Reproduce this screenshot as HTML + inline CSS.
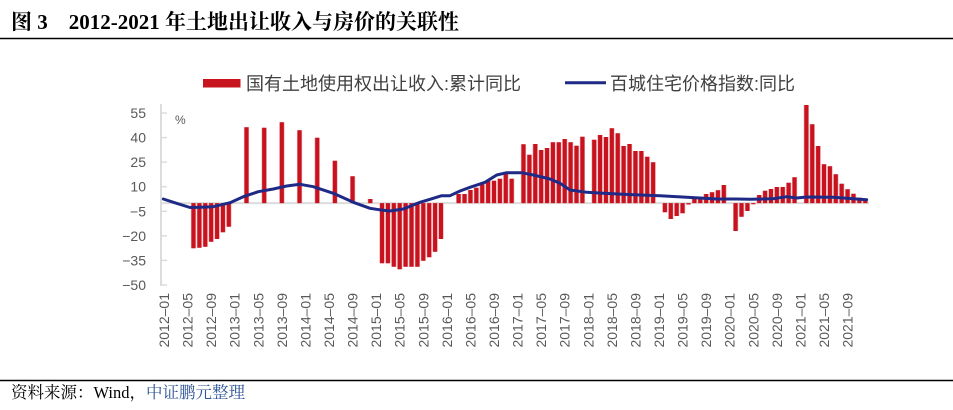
<!DOCTYPE html>
<html><head><meta charset="utf-8"><style>
html,body{margin:0;padding:0;background:#fff;}
svg{display:block;}
</style></head><body>
<svg width="953" height="410" viewBox="0 0 953 410" xmlns="http://www.w3.org/2000/svg">
<defs>
<path id="bars" d="M193.47 203.1V248.3M199.36 203.1V247.7M205.25 203.1V246.7M211.14 203.1V241.7M217.04 203.1V239M222.93 203.1V232.3M228.82 203.1V226.7
M246.5 203.1V127.3M264.18 203.1V127.7M281.86 203.1V122.3M299.54 203.1V130.3M317.22 203.1V137.7M334.9 203.1V160.7M352.58 203.1V176.3M370.26 203.1V199
M382.04 203.1V263.3M387.93 203.1V263.3M393.83 203.1V266.7M399.72 203.1V269.3M405.61 203.1V266.7M411.51 203.1V266.7M417.4 203.1V266.7M423.29 203.1V260.7M429.19 203.1V257.3M435.08 203.1V251.7M440.97 203.1V239
M458.65 203.1V194M464.54 203.1V194M470.44 203.1V190M476.33 203.1V187.7M482.22 203.1V184.3M488.12 203.1V181M494.01 203.1V180.7M499.9 203.1V178.7M505.79 203.1V174M511.69 203.1V178.7
M523.47 203.1V144.3M529.37 203.1V154.7M535.26 203.1V144M541.15 203.1V150M547.05 203.1V148M552.94 203.1V142.3M558.83 203.1V142.3M564.72 203.1V139M570.62 203.1V142.3M576.51 203.1V145.7M582.4 203.1V136.7
M594.19 203.1V139.7M600.08 203.1V135M605.98 203.1V137M611.87 203.1V128.3M617.76 203.1V133.3M623.65 203.1V146M629.55 203.1V144M635.44 203.1V151M641.33 203.1V151M647.23 203.1V156.7M653.12 203.1V162.3
M664.91 203.1V212.3M670.8 203.1V219M676.69 203.1V216M682.58 203.1V213.3M688.48 203.1V204.5M694.37 203.1V196.7M700.26 203.1V196.7M706.16 203.1V194M712.05 203.1V192.3M717.94 203.1V190.3M723.84 203.1V185
M735.62 203.1V231M741.51 203.1V216.7M747.41 203.1V211M753.3 203.1V204.2M759.19 203.1V195M765.09 203.1V190.7M770.98 203.1V189M776.87 203.1V187M782.77 203.1V187M788.66 203.1V182.7M794.55 203.1V177.3
M806.34 203.1V105M812.23 203.1V124.3M818.12 203.1V146M824.02 203.1V164.3M829.91 203.1V166.3M835.8 203.1V174.3M841.7 203.1V183.7M847.59 203.1V189.3M853.48 203.1V193.7M859.37 203.1V197.7M865.27 203.1V198.7"/>
</defs>
<rect width="953" height="410" fill="#fff"/>
<text x="11" y="29" font-family="Liberation Serif, Noto Serif CJK SC, serif" font-weight="bold" font-size="21" fill="#000">图 3　2012-2021 年土地出让收入与房价的关联性</text>
<line x1="0" y1="38.5" x2="953" y2="38.5" stroke="#000" stroke-width="1.5"/>
<rect x="203" y="79" width="37.5" height="8.5" fill="#c8141e"/>
<text x="246" y="90" font-family="Liberation Sans, Noto Sans CJK SC, sans-serif" font-size="18" fill="#404040">国有土地使用权出让收入:累计同比</text>
<line x1="565" y1="82.7" x2="606" y2="82.7" stroke="#1f2a87" stroke-width="3"/>
<text x="610" y="90" font-family="Liberation Sans, Noto Sans CJK SC, sans-serif" font-size="18" fill="#404040">百城住宅价格指数:同比</text>
<line x1="161" y1="104" x2="161" y2="286" stroke="#dcdcdc" stroke-width="2"/>
<g stroke="#dcdcdc" stroke-width="1.5">
<line x1="161" y1="113" x2="167" y2="113"/><line x1="161" y1="137.6" x2="167" y2="137.6"/><line x1="161" y1="162.1" x2="167" y2="162.1"/><line x1="161" y1="186.7" x2="167" y2="186.7"/><line x1="161" y1="211.3" x2="167" y2="211.3"/><line x1="161" y1="235.9" x2="167" y2="235.9"/><line x1="161" y1="260.4" x2="167" y2="260.4"/><line x1="161" y1="285" x2="167" y2="285"/>
</g>
<g font-family="Liberation Sans, sans-serif" font-size="14" fill="#595959" text-anchor="end">
<text x="146" y="118">55</text><text x="146" y="142.6">40</text><text x="146" y="167.1">25</text><text x="146" y="191.7">10</text><text x="146" y="216.3">−5</text><text x="146" y="240.9">−20</text><text x="146" y="265.4">−35</text><text x="146" y="290">−50</text>
</g>
<text x="175" y="124" font-family="Liberation Sans, sans-serif" font-size="12" fill="#595959">%</text>
<line x1="161" y1="203.1" x2="869" y2="203.1" stroke="#dcdcdc" stroke-width="2"/>
<g fill="none" stroke-linecap="butt">
<use href="#bars" stroke="#e9a3a8" stroke-width="5.2"/>
<use href="#bars" stroke="#c8121e" stroke-width="4"/>
</g>
<polyline fill="none" stroke="#1f2a87" stroke-width="3" stroke-linejoin="round" stroke-linecap="round" points="163.3,199 175,202.8 190,207.5 200,207.3 213.3,206.7 230,202.7 243.3,196.7 258.3,191.7 273.3,189 286.7,186 300,184.3 313.3,186.7 333.3,193.3 353.3,202.3 370,208.3 383.3,210.3 390,211 403.3,209 420,202.3 430,199.3 441.7,195.7 450,195.7 460,191 470,187.3 485,182.3 496.7,175 506.7,172.7 521.7,172.7 533.3,175 550,179 560,183.3 570,190 586.7,192.3 603.3,193.3 623.3,194.3 640,195 660,195.7 686.7,197.3 716.7,199 736.7,199 750,199.3 773.3,198.7 786.7,196.7 796.7,198 806.7,197 833.3,197.3 846.7,198.3 866.7,199.7"/>
<g font-family="Liberation Sans, sans-serif" font-size="14" fill="#595959" text-anchor="end">
<text transform="translate(169,293) rotate(-90)">2012–01</text>
<text transform="translate(192.6,293) rotate(-90)">2012–05</text>
<text transform="translate(216.1,293) rotate(-90)">2012–09</text>
<text transform="translate(239.7,293) rotate(-90)">2013–01</text>
<text transform="translate(263.3,293) rotate(-90)">2013–05</text>
<text transform="translate(286.9,293) rotate(-90)">2013–09</text>
<text transform="translate(310.4,293) rotate(-90)">2014–01</text>
<text transform="translate(334,293) rotate(-90)">2014–05</text>
<text transform="translate(357.6,293) rotate(-90)">2014–09</text>
<text transform="translate(381.2,293) rotate(-90)">2015–01</text>
<text transform="translate(404.7,293) rotate(-90)">2015–05</text>
<text transform="translate(428.3,293) rotate(-90)">2015–09</text>
<text transform="translate(451.9,293) rotate(-90)">2016–01</text>
<text transform="translate(475.4,293) rotate(-90)">2016–05</text>
<text transform="translate(499,293) rotate(-90)">2016–09</text>
<text transform="translate(522.6,293) rotate(-90)">2017–01</text>
<text transform="translate(546.2,293) rotate(-90)">2017–05</text>
<text transform="translate(569.7,293) rotate(-90)">2017–09</text>
<text transform="translate(593.3,293) rotate(-90)">2018–01</text>
<text transform="translate(616.9,293) rotate(-90)">2018–05</text>
<text transform="translate(640.4,293) rotate(-90)">2018–09</text>
<text transform="translate(664,293) rotate(-90)">2019–01</text>
<text transform="translate(687.6,293) rotate(-90)">2019–05</text>
<text transform="translate(711.2,293) rotate(-90)">2019–09</text>
<text transform="translate(734.7,293) rotate(-90)">2020–01</text>
<text transform="translate(758.3,293) rotate(-90)">2020–05</text>
<text transform="translate(781.9,293) rotate(-90)">2020–09</text>
<text transform="translate(805.4,293) rotate(-90)">2021–01</text>
<text transform="translate(829,293) rotate(-90)">2021–05</text>
<text transform="translate(852.6,293) rotate(-90)">2021–09</text>
</g>
<line x1="0" y1="380.5" x2="953" y2="380.5" stroke="#000" stroke-width="1.5"/>
<text x="11" y="398" font-family="Liberation Serif, Noto Serif CJK SC, serif" font-size="16.5" fill="#000">资料来源：Wind，<tspan fill="#2f5597">中证鹏元整理</tspan></text>
</svg>
</body></html>
